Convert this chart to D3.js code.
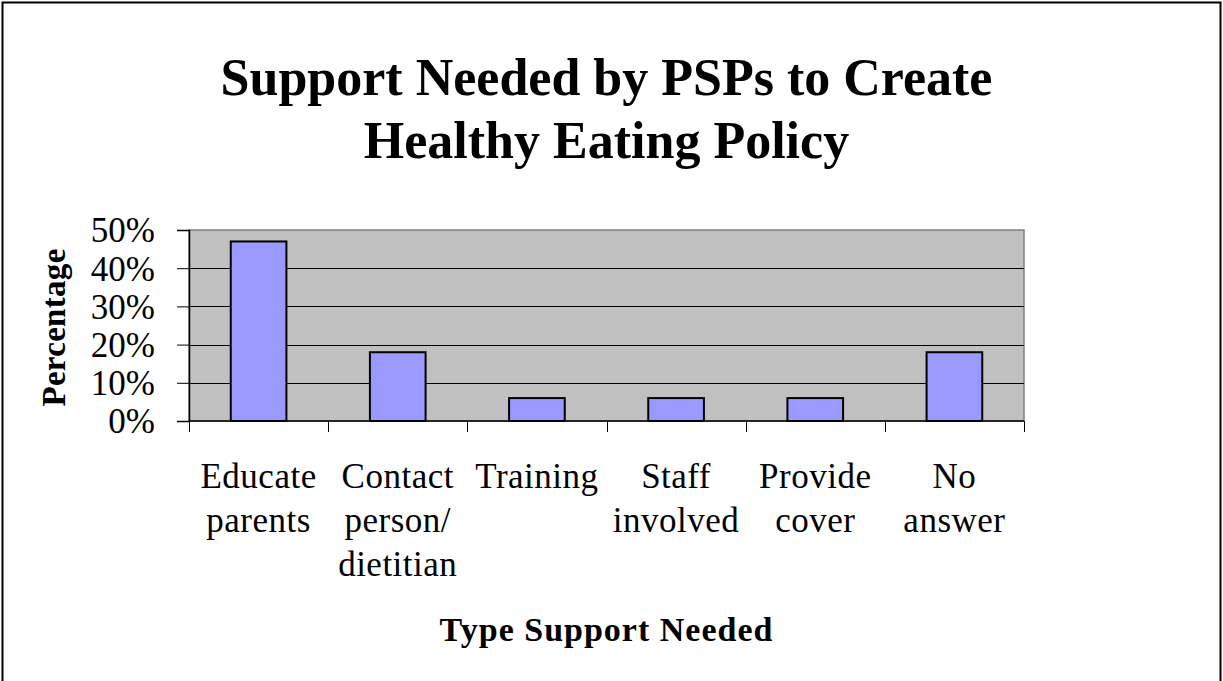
<!DOCTYPE html>
<html>
<head>
<meta charset="utf-8">
<script src="https://cdn.jsdelivr.net/npm/d3@7"></script>
<style>
  html, body { margin: 0; padding: 0; background: #fff; }
  svg { display: block; }
  text { font-family: "Liberation Serif", "Times New Roman", serif; fill: #000; }
</style>
</head>
<body>
<svg id="chart" width="1223" height="681"></svg>
<script>
// ---- data ----
const categories = ["Educate parents", "Contact person/ dietitian", "Training", "Staff involved", "Provide cover", "No answer"];
const categoryLines = [["Educate", "parents"], ["Contact", "person/", "dietitian"], ["Training"], ["Staff", "involved"], ["Provide", "cover"], ["No", "answer"]];
const values = [0.47, 0.18, 0.06, 0.06, 0.06, 0.18];
const yTicks = [0, 0.1, 0.2, 0.3, 0.4, 0.5];
const titleLines = ["Support Needed by PSPs to Create", "Healthy Eating Policy"];
const yTitle = "Percentage";
const xTitle = "Type Support Needed";

// ---- layout ----
const W = 1223, H = 681;
const plot = { left: 189, top: 230, right: 1024, bottom: 421 };

const svg = d3.select("#chart");

// outer frame
svg.append("rect")
  .attr("x", 2.5).attr("y", 2.5)
  .attr("width", W - 5).attr("height", H + 10)
  .attr("fill", "#fff").attr("stroke", "#000").attr("stroke-width", 2);

const x = d3.scaleBand().domain(categories).range([plot.left, plot.right]).paddingInner(0).paddingOuter(0);
const y = d3.scaleLinear().domain([0, 0.5]).range([plot.bottom, plot.top]);

// plot area background
svg.append("rect")
  .attr("x", plot.left).attr("y", plot.top)
  .attr("width", plot.right - plot.left).attr("height", plot.bottom - plot.top)
  .attr("fill", "#c0c0c0").attr("stroke", "#808080").attr("stroke-width", 1.5);

// gridlines
svg.append("g").selectAll("line")
  .data(yTicks.filter(d => d > 0 && d < 0.5))
  .join("line")
  .attr("x1", plot.left).attr("x2", plot.right)
  .attr("y1", d => Math.round(y(d)) + 0.5).attr("y2", d => Math.round(y(d)) + 0.5)
  .attr("stroke", "#000").attr("stroke-width", 1);

// bars
const bw = x.bandwidth() * 0.4;
svg.append("g").selectAll("rect")
  .data(categories)
  .join("rect")
  .attr("x", d => x(d) + (x.bandwidth() - bw) / 2)
  .attr("y", (d, i) => y(values[i]))
  .attr("width", bw)
  .attr("height", (d, i) => y(0) - y(values[i]))
  .attr("fill", "#9999ff").attr("stroke", "#000").attr("stroke-width", 2);

// y axis
const yAxis = d3.axisLeft(y).tickValues(yTicks).tickFormat(d3.format(".0%")).tickSize(12).tickPadding(8);
const gy = svg.append("g").attr("transform", `translate(${plot.left},0)`).call(yAxis);
gy.select(".domain").attr("stroke", "#000").attr("stroke-width", 1.5);
gy.selectAll(".tick line").attr("stroke", "#000").attr("stroke-width", 1);
gy.selectAll(".tick text")
  .attr("font-family", "Liberation Serif, serif")
  .attr("font-size", 35).attr("fill", "#000")
  .attr("dy", "0.34em")
  .attr("x", -34);

// x axis with ticks at boundaries
const boundaries = categories.map(c => x(c)).concat([plot.right]);
const gx = svg.append("g");
gx.append("line")
  .attr("x1", plot.left).attr("x2", plot.right)
  .attr("y1", plot.bottom).attr("y2", plot.bottom)
  .attr("stroke", "#000").attr("stroke-width", 1.5);
gx.selectAll("line.tk")
  .data(boundaries)
  .join("line").attr("class", "tk")
  .attr("x1", d => Math.round(d) + 0.5).attr("x2", d => Math.round(d) + 0.5)
  .attr("y1", plot.bottom).attr("y2", plot.bottom + 11)
  .attr("stroke", "#000").attr("stroke-width", 1);

// category labels
const lab = svg.append("g").selectAll("text")
  .data(categories)
  .join("text")
  .attr("text-anchor", "middle")
  .attr("font-size", 35)
  .style("letter-spacing", "0.5px");
lab.each(function (d, i) {
  const t = d3.select(this);
  categoryLines[i].forEach((ln, j) => {
    t.append("tspan")
      .attr("x", x(d) + x.bandwidth() / 2)
      .attr("y", 488 + j * 44)
      .text(ln);
  });
});

// title
svg.append("g").selectAll("text")
  .data(titleLines)
  .join("text")
  .attr("x", (plot.left + plot.right) / 2)
  .attr("y", (d, i) => 95 + i * 63)
  .attr("text-anchor", "middle")
  .attr("font-size", 52)
  .attr("font-weight", "bold")
  .text(d => d);

// y title
svg.append("text")
  .attr("transform", `translate(65,${(plot.top + plot.bottom) / 2 + 2}) rotate(-90)`)
  .attr("text-anchor", "middle")
  .attr("font-size", 33)
  .attr("font-weight", "bold")
  .style("letter-spacing", "0.3px")
  .text(yTitle);

// x title
svg.append("text")
  .attr("x", (plot.left + plot.right) / 2)
  .attr("y", 641)
  .attr("text-anchor", "middle")
  .attr("font-size", 34)
  .attr("font-weight", "bold")
  .style("letter-spacing", "1px")
  .text(xTitle);
</script>
</body>
</html>
